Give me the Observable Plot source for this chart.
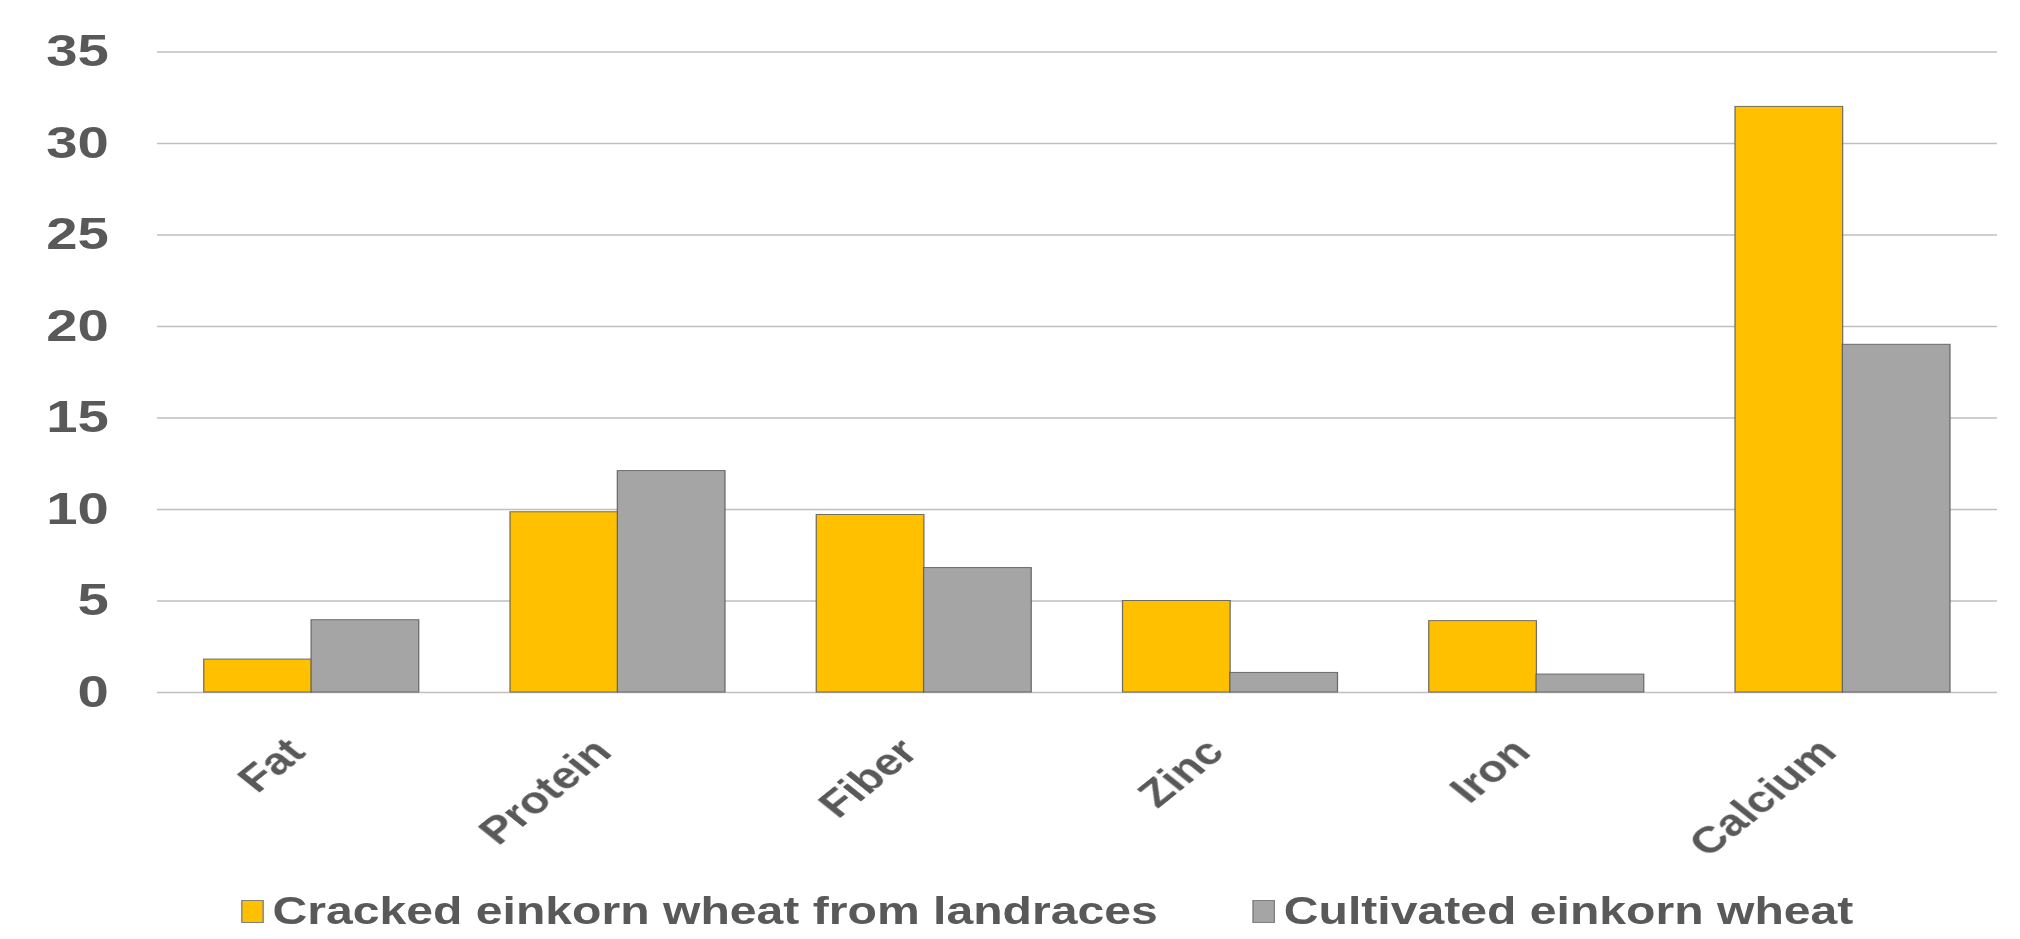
<!DOCTYPE html>
<html><head><meta charset="utf-8">
<script src="https://cdn.jsdelivr.net/npm/d3@7"></script>
<script src="https://cdn.jsdelivr.net/npm/@observablehq/plot@0.6"></script>
<style>
html,body{margin:0;padding:0;background:#fff;overflow:hidden;}
#wrap{position:relative;width:1616px;height:939px;transform:scaleX(1.25);transform-origin:0 0;font-family:"Liberation Sans",Arial,sans-serif;}
#chart{position:absolute;left:0;top:0;}
.item{position:absolute;top:890px;height:42px;display:flex;align-items:center;font-size:38.5px;font-weight:bold;color:#595959;white-space:nowrap;}
.sw{width:18px;height:23px;border:1px solid #7f7f7f;margin-right:7px;box-sizing:border-box;}
</style></head><body>
<div id="wrap"><div id="chart"></div><div id="legend"></div></div>
<script>
const categories = ["Fat", "Protein", "Fiber", "Zinc", "Iron", "Calcium"];
const seriesNames = ["Cracked einkorn wheat from landraces", "Cultivated einkorn wheat"];
const landraces = [1.8, 9.85, 9.7, 5.0, 3.9, 32.0];
const cultivated = [3.95, 12.1, 6.8, 1.07, 0.98, 19.0];
const yTicks = [0, 5, 10, 15, 20, 25, 30, 35];
const colors = ["#FFC000", "#A5A5A5"];

const W = 1616, H = 800, ML = 125.6, MR = 18.4, MT = 51.5, MB = 108;
const PI = 0.3, PO = 0.15;

const rowsA = categories.map((c, i) => ({category: c, series: seriesNames[0], value: landraces[i]}));
const rowsB = categories.map((c, i) => ({category: c, series: seriesNames[1], value: cultivated[i]}));

const band = d3.scaleBand(categories, [ML, W - MR]).paddingInner(PI).paddingOuter(PO);
const half = band.bandwidth() / 2;

const font = '"Liberation Sans", Arial, sans-serif';
const chart = Plot.plot({
  width: W, height: H,
  marginLeft: ML, marginRight: MR, marginTop: MT, marginBottom: MB,
  style: {fontFamily: font, background: "#fff", overflow: "visible"},
  x: {domain: categories, paddingInner: PI, paddingOuter: PO, label: null},
  y: {domain: [0, 35], label: null},
  marks: [
    Plot.gridY(yTicks, {stroke: "#BFBFBF", strokeOpacity: 1, strokeWidth: 1.5}),
    Plot.axisY(yTicks, {tickSize: 0, tickPadding: 39, fontSize: 45, fontWeight: "bold", fill: "#595959", label: null}),
    Plot.axisX({tickSize: 0, tickPadding: 53, dx: -12, tickRotate: -45, fontSize: 38, fontWeight: "bold", fill: "#595959", label: null}),
    Plot.barY(rowsA, {x: "category", y: "value", fill: colors[0], stroke: "#595959", strokeOpacity: 0.85, strokeWidth: 1, insetRight: half}),
    Plot.barY(rowsB, {x: "category", y: "value", fill: colors[1], stroke: "#595959", strokeOpacity: 0.85, strokeWidth: 1, insetLeft: half})
  ]
});
document.getElementById("chart").appendChild(chart);

const legend = document.getElementById("legend");
const legendLeft = [193, 1002];
seriesNames.forEach((name, i) => {
  const item = document.createElement("div");
  item.className = "item";
  item.style.left = legendLeft[i] + "px";
  const sw = document.createElement("div");
  sw.className = "sw";
  sw.style.background = colors[i];
  const t = document.createElement("span");
  t.textContent = name;
  item.appendChild(sw); item.appendChild(t);
  legend.appendChild(item);
});
</script>
</body></html>
